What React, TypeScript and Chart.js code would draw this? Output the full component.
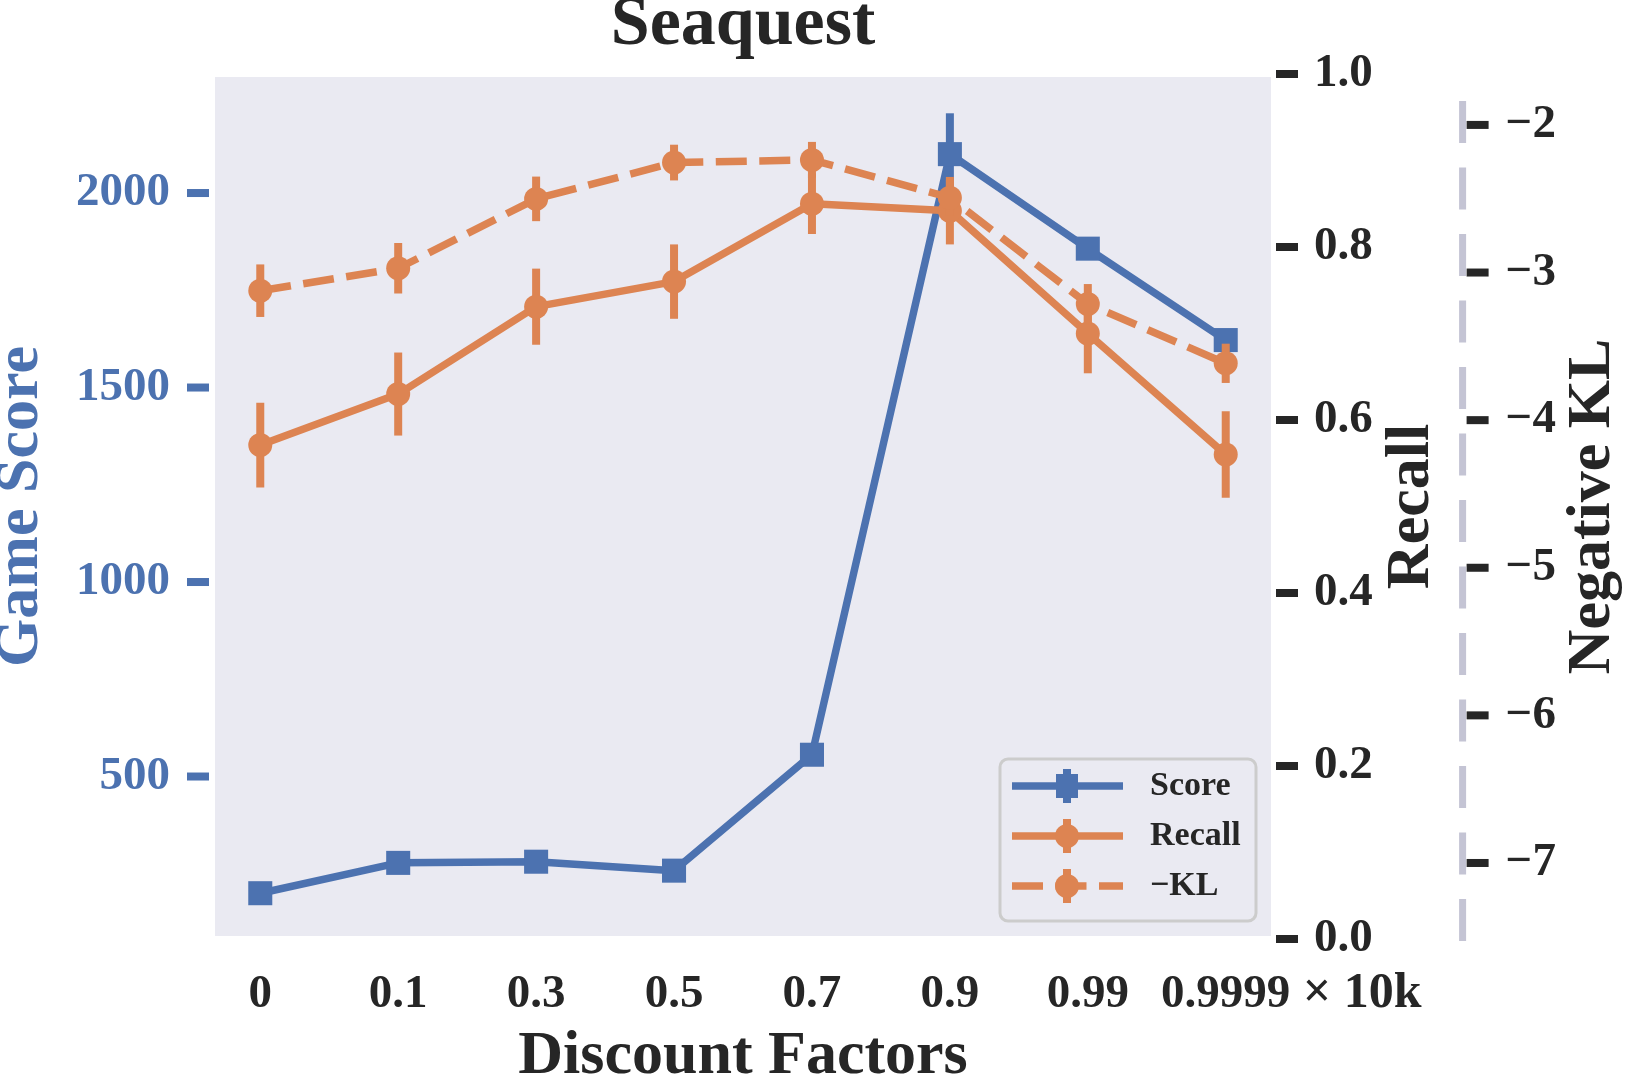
import { useEffect, useRef } from "react"
import { Chart, registerables } from "chart.js"

Chart.register(...registerables)

const discounts = ["0", "0.1", "0.3", "0.5", "0.7", "0.9", "0.99", "0.9999"]
const scoreValues = [200, 278, 281, 258, 556, 2100, 1857, 1622]
const scoreErrors = [15, 20, 20, 15, 25, 105, 20, 20]
const recallValues = [0.571, 0.63, 0.731, 0.76, 0.85, 0.842, 0.7, 0.56]
const recallErrors = [0.049, 0.048, 0.044, 0.043, 0.035, 0.039, 0.046, 0.05]
const klValues = [-3.123, -2.971, -2.501, -2.255, -2.237, -2.493, -3.213, -3.615]
const klErrors = [0.178, 0.171, 0.151, 0.121, 0.122, 0.12, 0.135, 0.133]
const scoreTicks = [500, 1000, 1500, 2000]
const recallTicks = [0, 0.2, 0.4, 0.6, 0.8, 1.0]
const klTicks = [-7, -6, -5, -4, -3, -2]

const BLUE = "#4c72b0"
const ORANGE = "#dd8452"
const INK = "#262626"
const PANEL = "#eaeaf2"
const SERIF = '"Liberation Serif", "Times New Roman", serif'

const bold = (size: number, lineHeight = 1) => ({ family: SERIF, size, weight: "bold" as const, lineHeight })

const decor = {
  id: "decor",
  beforeDraw(chart: any) {
    const { ctx, chartArea: a } = chart
    ctx.save()
    ctx.fillStyle = PANEL
    ctx.fillRect(a.left + 3, a.top + 3, a.width - 6, a.height - 6)
    ctx.restore()
  },
  beforeDatasetDraw(chart: any, args: any) {
    const ds = chart.data.datasets[args.index]
    if (!ds.errors) return
    const { ctx, chartArea: a } = chart
    const ys = chart.scales[ds.yAxisID]
    ctx.save()
    ctx.beginPath()
    ctx.rect(a.left, a.top, a.width, a.height)
    ctx.clip()
    ctx.strokeStyle = ds.borderColor
    ctx.lineWidth = 8
    ctx.lineCap = "butt"
    args.meta.data.forEach((pt: any, j: number) => {
      const v = ds.data[j].y
      const e = ds.errors[j]
      ctx.beginPath()
      ctx.moveTo(pt.x, ys.getPixelForValue(v - e))
      ctx.lineTo(pt.x, ys.getPixelForValue(v + e))
      ctx.stroke()
    })
    ctx.restore()
  },
  afterDraw(chart: any) {
    const { ctx, chartArea: a, scales } = chart
    ctx.save()

    // tick marks, detached from the panel like the original
    const tick = (x1: number, x2: number, y: number, color: string) => {
      ctx.fillStyle = color
      ctx.fillRect(x1, y - 4, x2 - x1, 8)
    }
    scoreTicks.forEach(v => tick(scales.y.right - 25, scales.y.right - 3, scales.y.getPixelForValue(v), BLUE))
    recallTicks.forEach(v => tick(scales.y1.left + 2, scales.y1.left + 24, scales.y1.getPixelForValue(v), INK))
    klTicks.forEach(v => tick(scales.y2.left + 4, scales.y2.left + 26, scales.y2.getPixelForValue(v), INK))

    // dashed spine of the third axis
    ctx.strokeStyle = "#c4c4d4"
    ctx.lineWidth = 7
    ctx.setLineDash([42, 24.5])
    ctx.beginPath()
    ctx.moveTo(scales.y2.left, a.top + 27)
    ctx.lineTo(scales.y2.left, a.bottom + 2)
    ctx.stroke()
    ctx.setLineDash([])

    // right-hand axis titles read bottom to top
    const vtitle = (text: string, x: number) => {
      ctx.save()
      ctx.translate(x, (a.top + a.bottom) / 2)
      ctx.rotate(-Math.PI / 2)
      ctx.font = `bold 62px ${SERIF}`
      ctx.fillStyle = INK
      ctx.textAlign = "center"
      ctx.textBaseline = "middle"
      ctx.fillText(text, 0, 0)
      ctx.restore()
    }
    vtitle("Recall", scales.y1.left + 138)
    vtitle("Negative KL", scales.y2.left + 130.5)

    // x offset text
    ctx.font = `bold 50px ${SERIF}`
    ctx.fillStyle = INK
    ctx.textAlign = "left"
    ctx.textBaseline = "middle"
    ctx.fillText("\u00d7 10k", scales.x.getPixelForValue(7) + 77, scales.x.top + 55.5)

    // legend
    const L = a.right - 274
    const T = a.bottom - 180
    ctx.beginPath()
    ctx.roundRect(L, T, 256, 162, 8)
    ctx.fillStyle = PANEL
    ctx.fill()
    ctx.strokeStyle = "#cccccc"
    ctx.lineWidth = 3
    ctx.stroke()

    const rows = [
      { label: "Score", color: BLUE, dash: [] as number[], rect: true },
      { label: "Recall", color: ORANGE, dash: [] as number[], rect: false },
      { label: "\u2212KL", color: ORANGE, dash: [31, 12.5], rect: false },
    ]
    rows.forEach((r, k) => {
      const y = T + 27 + k * 50
      const mx = L + 67
      ctx.strokeStyle = r.color
      ctx.fillStyle = r.color
      ctx.lineWidth = 7.5
      ctx.lineCap = "butt"
      ctx.setLineDash(r.dash)
      ctx.beginPath()
      ctx.moveTo(L + 12, y)
      ctx.lineTo(L + 123, y)
      ctx.stroke()
      ctx.setLineDash([])
      ctx.lineWidth = 8
      ctx.beginPath()
      ctx.moveTo(mx, y - 17)
      ctx.lineTo(mx, y + 17)
      ctx.stroke()
      ctx.beginPath()
      if (r.rect) ctx.rect(mx - 11, y - 12, 22, 24)
      else ctx.arc(mx, y, 12, 0, Math.PI * 2)
      ctx.fill()
      ctx.fillStyle = INK
      ctx.font = `bold 34px ${SERIF}`
      ctx.textAlign = "left"
      ctx.textBaseline = "middle"
      ctx.fillText(r.label, L + 150, y)
    })

    ctx.restore()
  },
}

const pts = (vals: number[]) => vals.map((y, i) => ({ x: i, y }))

export default function App() {
  const canvasRef = useRef<HTMLCanvasElement>(null)
  const chartRef = useRef<Chart | null>(null)

  useEffect(() => {
    if (!canvasRef.current) return
    chartRef.current?.destroy()

    chartRef.current = new Chart(canvasRef.current, {
      type: "line",
      data: {
        datasets: [
          {
            label: "Score",
            data: pts(scoreValues),
            errors: scoreErrors,
            yAxisID: "y",
            borderColor: BLUE,
            backgroundColor: BLUE,
            borderWidth: 7.5,
            borderJoinStyle: "round",
            pointStyle: "rect",
            pointRadius: 17,
            pointBorderWidth: 0,
            pointBackgroundColor: BLUE,
            tension: 0,
            order: 2,
          },
          {
            label: "Recall",
            data: pts(recallValues),
            errors: recallErrors,
            yAxisID: "y1",
            borderColor: ORANGE,
            backgroundColor: ORANGE,
            borderWidth: 7.5,
            borderJoinStyle: "round",
            pointRadius: 12,
            pointBorderWidth: 0,
            pointBackgroundColor: ORANGE,
            tension: 0,
            order: 1,
          },
          {
            label: "\u2212KL",
            data: pts(klValues),
            errors: klErrors,
            yAxisID: "y2",
            borderColor: ORANGE,
            backgroundColor: ORANGE,
            borderWidth: 7.5,
            borderDash: [31, 12.5],
            borderCapStyle: "butt",
            borderJoinStyle: "round",
            pointRadius: 12,
            pointBorderWidth: 0,
            pointBackgroundColor: ORANGE,
            tension: 0,
            order: 0,
          },
        ] as any,
      },
      options: {
        responsive: true,
        maintainAspectRatio: false,
        animation: false,
        events: [],
        layout: { padding: 0 },
        plugins: {
          legend: { display: false },
          tooltip: { enabled: false },
          title: {
            display: true,
            text: "Seaquest",
            fullSize: false,
            color: INK,
            font: bold(70, 0.7),
            padding: { top: 1.5, bottom: 23.5 },
          },
        },
        scales: {
          x: {
            type: "linear",
            min: -0.35,
            max: 7.35,
            grid: { display: false, drawTicks: false },
            border: { display: false },
            afterBuildTicks: (s: any) => { s.ticks = discounts.map((_, i) => ({ value: i })) },
            afterFit: (s: any) => { s.height = 152 },
            ticks: {
              autoSkip: false,
              maxRotation: 0,
              padding: 32,
              color: INK,
              font: bold(47),
              callback: (v: any) => discounts[v] ?? "",
            },
            title: {
              display: true,
              text: "Discount Factors",
              color: INK,
              font: bold(62),
              padding: { top: 0, bottom: 3 },
            },
          },
          y: {
            position: "left",
            min: 82.3,
            max: 2306,
            grid: { display: false, drawTicks: false },
            border: { display: false },
            afterBuildTicks: (s: any) => { s.ticks = scoreTicks.map(value => ({ value })) },
            afterFit: (s: any) => { s.width = 212 },
            ticks: { padding: 42, color: BLUE, font: bold(47), callback: (v: any) => String(v) },
            title: {
              display: true,
              text: "Game Score",
              color: BLUE,
              font: bold(62, 0.6),
              padding: { top: 2.4, bottom: 0 },
            },
          },
          y1: {
            position: "right",
            min: 0,
            max: 1,
            grid: { display: false, drawTicks: false },
            border: { display: false },
            afterBuildTicks: (s: any) => { s.ticks = recallTicks.map(value => ({ value })) },
            afterFit: (s: any) => { s.width = 188.6 },
            ticks: { padding: 40, color: INK, font: bold(47), callback: (v: any) => Number(v).toFixed(1) },
          },
          y2: {
            position: "right",
            min: -7.515,
            max: -1.655,
            grid: { display: false, drawTicks: false },
            border: { display: false },
            afterBuildTicks: (s: any) => { s.ticks = klTicks.map(value => ({ value })) },
            afterFit: (s: any) => { s.width = 167.4 },
            ticks: { padding: 43, color: INK, font: bold(47), callback: (v: any) => "\u2212" + Math.abs(Number(v)) },
          },
        },
      },
      plugins: [decor],
    } as any)

    return () => { chartRef.current?.destroy() }
  }, [])

  return (
    <div style={{ position: "absolute", left: 0, top: 0, width: 1630, height: 1091, background: "#fff" }}>
      <canvas ref={canvasRef} aria-label="Seaquest: game score, recall and negative KL over discount factors" role="img" />
    </div>
  )
}
